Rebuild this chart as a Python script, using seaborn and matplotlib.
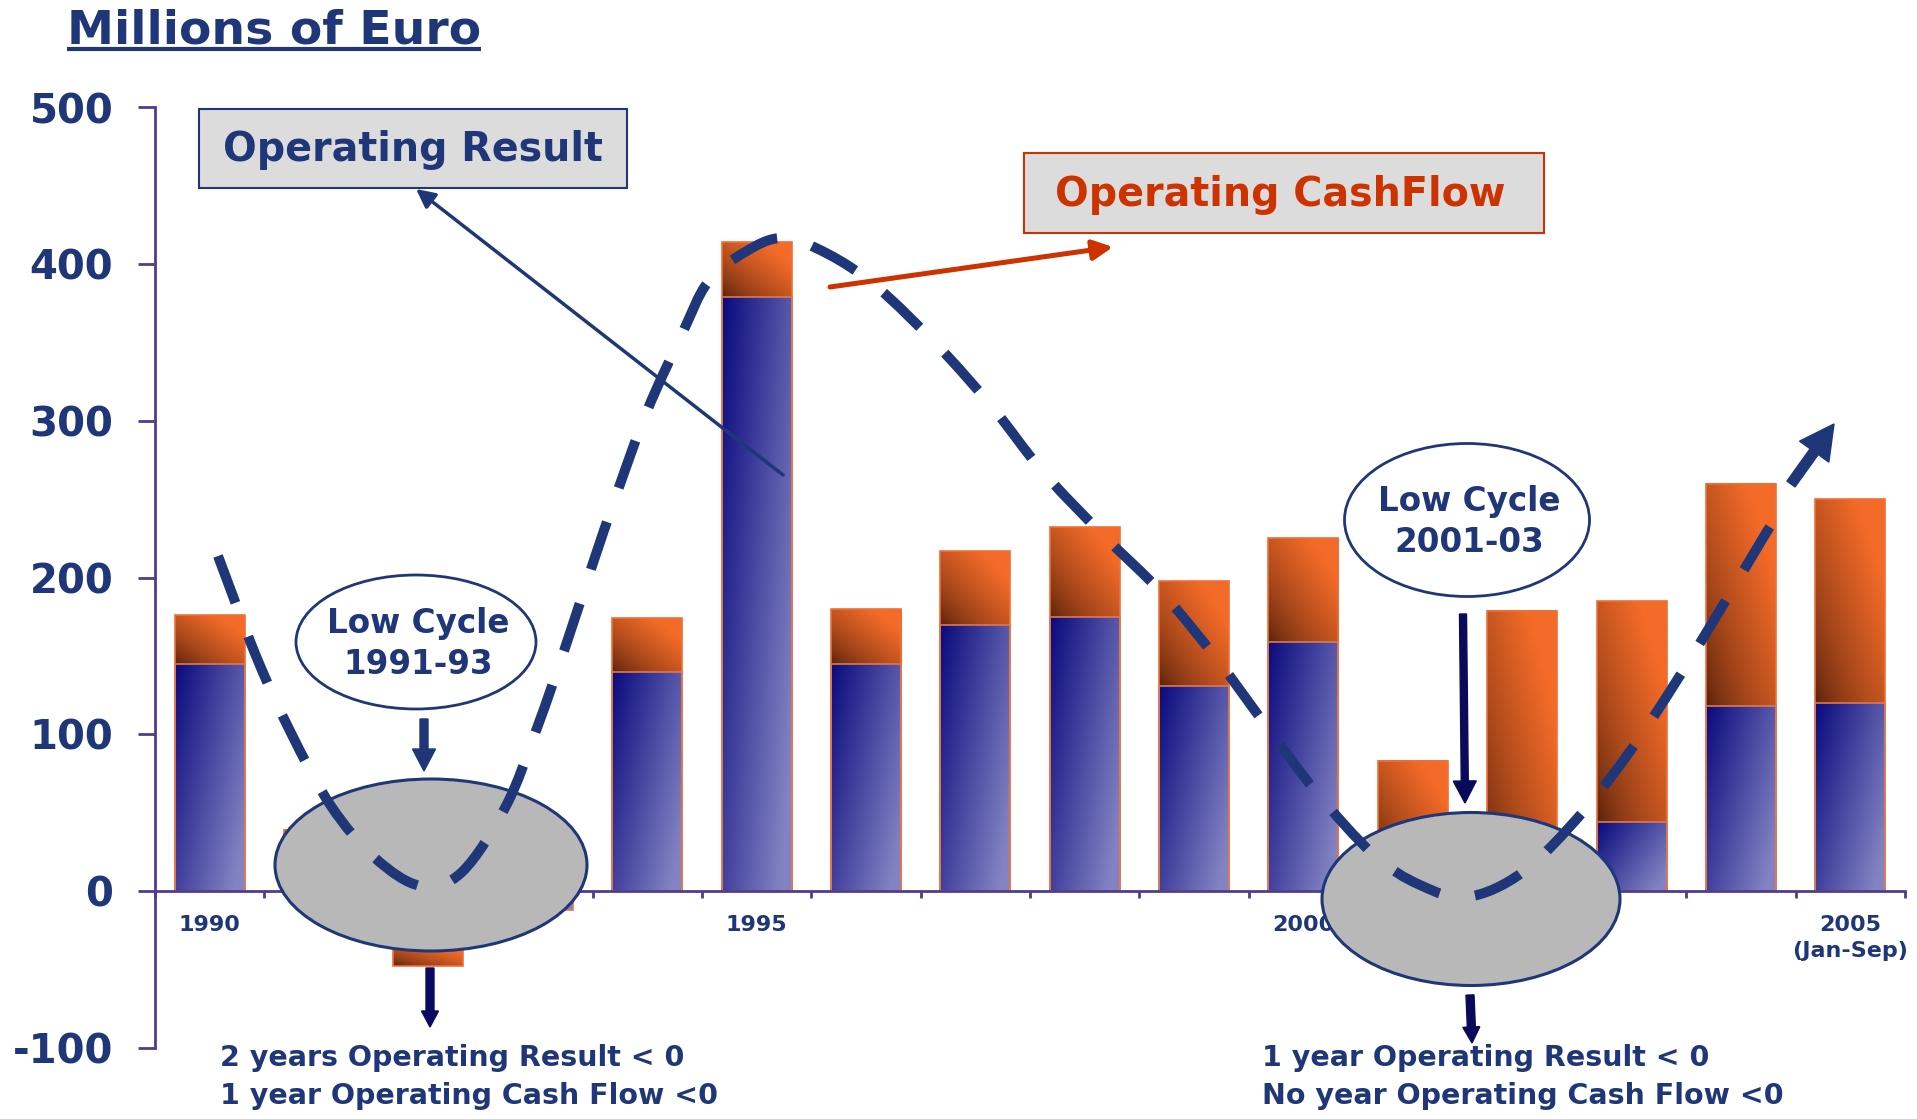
import numpy as np
import seaborn as sns
import matplotlib.pyplot as plt
import matplotlib.colors as mcolors
import matplotlib.patches as mpatches
from matplotlib.path import Path

plt.rcParams["axes.unicode_minus"] = False
plt.rcParams["font.weight"] = "bold"  # every text in the chart is bold

# chart data (millions of euro)
years = [str(y) for y in range(1990, 2006)]
cash_flow = [176, 39, -48, 15, 174, 414, 180, 217, 232, 198, 225, 83, 179, 185, 260, 250]
op_result = [145, 10, -35, -12, 140, 379, 145, 170, 175, 131, 159, 15, -20, 44, 118, 120]
x_labels = {"1990": "1990", "1995": "1995", "2000": "2000", "2005": "2005\n(Jan-Sep)"}
y_ticks = [-100, 0, 100, 200, 300, 400, 500]

NAVY = "#1f3778"
AXIS = "#503c8c"
RED = "#cc3300"
ORANGE_DARK, ORANGE_LIGHT = "#54200c", "#f46b28"
BLUE_DARK, BLUE_LIGHT = "#0a0a7e", "#8383c3"


def shade(ax, x0, x1, lo, hi, kind):
    # gradient fill for one bar segment
    n = 64
    u, v = np.meshgrid(np.linspace(0, 1, n), np.linspace(0, 1, n))
    if kind == "orange":
        t = np.clip((u + v) / 1.6, 0, 1) ** 0.7
        dark, light = ORANGE_DARK, ORANGE_LIGHT
    else:
        t = np.clip(0.65 * u + 0.45 * (1 - v), 0, 1)
        dark, light = BLUE_DARK, BLUE_LIGHT
    d = np.array(mcolors.to_rgb(dark))
    l = np.array(mcolors.to_rgb(light))
    img = d + (l - d) * t[..., None]
    ax.imshow(img, extent=[x0, x1, lo, hi], origin="lower", aspect="auto",
              interpolation="bilinear", zorder=1)


fig = plt.figure(figsize=(19.17, 11.19), dpi=100)
W, H = 1917, 1119
ax = fig.add_axes([155 / W, (H - 1047.7) / H, 1750 / W, (1047.7 - 107.5) / H])

n0 = len(ax.patches)
sns.barplot(x=years, y=cash_flow, color=ORANGE_LIGHT, width=0.64, saturation=1,
            errorbar=None, edgecolor="#ee7038", linewidth=1.2, ax=ax)
cash_patches = ax.patches[n0:]
n1 = len(ax.patches)
sns.barplot(x=years, y=op_result, color=BLUE_LIGHT, width=0.64, saturation=1,
            errorbar=None, edgecolor="#e07850", linewidth=1.2, ax=ax)
res_patches = ax.patches[n1:]

for pc, pr, c, r in zip(cash_patches, res_patches, cash_flow, op_result):
    x0, x1 = pc.get_x(), pc.get_x() + pc.get_width()
    # blue segment
    shade(ax, x0, x1, min(0, r), max(0, r), "blue")
    # visible orange segment
    if c > max(r, 0):
        shade(ax, x0, x1, max(r, 0), c, "orange")
    elif c < min(r, 0):
        shade(ax, x0, x1, c, min(r, 0), "orange")
    for p in (pc, pr):
        p.set_facecolor("none")
        p.set_zorder(3)

ax.set_xlim(-0.5, len(years) - 0.5)
ax.set_ylim(-100, 500)
ax.set_xlabel("")
ax.set_ylabel("")
ax.set_facecolor("none")

ax.set_xticks([years.index(k) for k in x_labels], list(x_labels.values()))
ax.set_xticks(np.arange(len(years) + 1) - 0.5, minor=True)
ax.tick_params(axis="x", which="major", length=0, pad=17, labelsize=16, labelcolor=NAVY)
ax.tick_params(axis="x", which="minor", length=5, width=2, color=AXIS, direction="out")
ax.set_yticks(y_ticks, [str(v) for v in y_ticks])
ax.tick_params(axis="y", length=12, width=2, color=AXIS, pad=18, labelsize=29,
               labelcolor=NAVY)

for s in ["top", "right"]:
    ax.spines[s].set_visible(False)
for s in ["left", "bottom"]:
    ax.spines[s].set_color(AXIS)
    ax.spines[s].set_linewidth(2)
    ax.spines[s].set_zorder(4)
ax.spines["bottom"].set_position(("data", 0))

# overlay in pixel coordinates for the annotations
ov = fig.add_axes([0, 0, 1, 1], zorder=5)
ov.set_xlim(0, W)
ov.set_ylim(H, 0)
ov.axis("off")
ov.patch.set_alpha(0)

# title
ov.text(67, 43, "Millions of Euro", fontsize=34, color=NAVY, ha="left", va="baseline")
ov.plot([67, 481], [49, 49], color=NAVY, lw=3, solid_capstyle="butt")

# labelled boxes
ov.add_patch(mpatches.Rectangle((199, 109), 428, 79, facecolor="#dcdcdc",
                                edgecolor=NAVY, lw=1.5, zorder=6))
ov.text(413, 150, "Operating Result", fontsize=28.5, color=NAVY,
        ha="center", va="center", zorder=7)
ov.add_patch(mpatches.Rectangle((1024, 153), 520, 80, facecolor="#dcdcdc",
                                edgecolor=RED, lw=1.5, zorder=6))
ov.text(1280, 195, "Operating CashFlow", fontsize=28.5, color=RED,
        ha="center", va="center", zorder=7)

ov.annotate("", xy=(416, 189), xytext=(783, 475), zorder=8,
            arrowprops=dict(arrowstyle="-|>", color=NAVY, lw=2.5, mutation_scale=28,
                            shrinkA=0, shrinkB=0))
ov.annotate("", xy=(1113, 247), xytext=(830, 287), zorder=8,
            arrowprops=dict(arrowstyle="-|>", color=RED, lw=3.6, mutation_scale=30,
                            shrinkA=0, shrinkB=0))

# low cycle call-outs
for (cx, cy, w, h), txt in [((416, 642, 240, 134), "Low Cycle\n1991-93"),
                            ((1467, 520, 245, 153), "Low Cycle\n2001-03")]:
    ov.add_patch(mpatches.Ellipse((cx, cy), w, h, facecolor="white", edgecolor=NAVY,
                                  lw=2, zorder=6))
    ov.text(cx + 2, cy + 2, txt, fontsize=23.5, color=NAVY,
            ha="center", va="center", linespacing=1.3, zorder=7)

for cx, cy, w, h in [(431, 865, 312, 172), (1471, 899, 298, 173)]:
    ov.add_patch(mpatches.Ellipse((cx, cy), w, h, facecolor="#b8b8b8", edgecolor=NAVY,
                                  lw=2.2, zorder=6))

ov.arrow(424, 719, 0, 52, width=8, head_width=23, head_length=22,
         length_includes_head=True, color=NAVY, zorder=7)
ov.arrow(430, 968, 0, 59, width=8, head_width=17, head_length=16,
         length_includes_head=True, color="#0a0a60", zorder=7)
ov.arrow(1463, 614, 2, 189, width=7, head_width=23, head_length=22,
         length_includes_head=True, color="#0a0a5a", zorder=7)
ov.arrow(1470, 995, 2, 48, width=8, head_width=17, head_length=16,
         length_includes_head=True, color="#0a0a5a", zorder=7)

# business cycle dashed curve (drawn annotation)
pts = np.array([(218, 556), (256, 656), (291, 733), (331, 806), (375, 858), (421, 886),
                (462, 872), (506, 806), (537, 728), (565, 648), (591, 569), (618, 490),
                (647, 411), (682, 334), (708, 282), (745, 252), (783, 238), (828, 254),
                (877, 287), (938, 346), (993, 408), (1043, 472), (1103, 535), (1163, 594),
                (1216, 658), (1267, 727), (1317, 793), (1374, 855), (1420, 885),
                (1467, 897), (1523, 872), (1582, 813), (1633, 747), (1679, 677),
                (1723, 605), (1766, 533), (1784, 505)], dtype=float)
ext = np.vstack([pts[0], pts, pts[-1]])
verts = [tuple(pts[0])]
codes = [Path.MOVETO]
for i in range(1, len(ext) - 2):
    p0, p1, p2, p3 = ext[i - 1], ext[i], ext[i + 1], ext[i + 2]
    verts += [tuple(p1 + (p2 - p0) / 6), tuple(p2 - (p3 - p1) / 6), tuple(p2)]
    codes += [Path.CURVE4] * 3
ov.add_patch(mpatches.PathPatch(Path(verts, codes), fill=False, edgecolor=NAVY, lw=7.2,
                                linestyle=(0, (5, 3.6)), capstyle="butt", zorder=9))
ov.arrow(1791, 484, 43, -60, width=10, head_width=36, head_length=34,
         length_includes_head=True, color=NAVY, zorder=9)

# bottom notes
ov.text(220, 1077, "2 years Operating Result < 0\n1 year Operating Cash Flow <0",
        fontsize=20.5, color=NAVY, ha="left", va="center", linespacing=1.5)
ov.text(1262, 1077, "1 year Operating Result < 0\nNo year Operating Cash Flow <0",
        fontsize=20.5, color=NAVY, ha="left", va="center", linespacing=1.5)

fig.canvas.draw()
for lab in ax.get_xticklabels():
    lab.set_linespacing(1.4)

fig.savefig("out.png", dpi=100)
